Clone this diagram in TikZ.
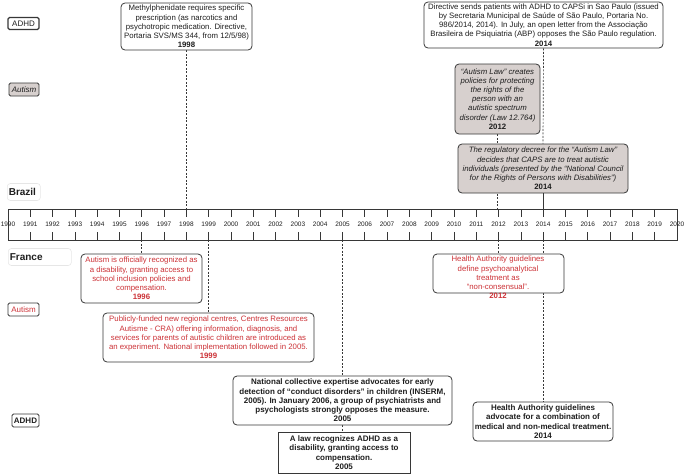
\documentclass[tikz,border=0pt]{standalone}
\usepackage{fontspec}
\setmainfont{Liberation Sans}
\usetikzlibrary{backgrounds}
\definecolor{ink}{RGB}{30,30,30}
\definecolor{edge}{RGB}{55,55,55}
\definecolor{redt}{RGB}{204,50,55}
\definecolor{grayf}{RGB}{215,208,206}
\definecolor{faint}{RGB}{230,230,230}
\tikzset{
  ev/.style={draw=edge, line width=0.8pt, rounded corners=4pt, fill=white, align=center, inner sep=1pt, text=ink, font=\fontsize{7.8}{9.2}\selectfont},
  evg/.style={ev, fill=grayf, font=\fontsize{7.8}{9.2}\selectfont\itshape},
  evr/.style={ev, text=redt},
  evb/.style={ev, font=\fontsize{8}{9.3}\selectfont\bfseries},
  conn/.style={draw=edge, line width=0.7pt, dash pattern=on 2pt off 1.5pt},
  solidconn/.style={draw=edge, line width=0.8pt},
  axisline/.style={draw=edge, line width=0.7pt},
  yr/.style={font=\fontsize{6.5}{7}\selectfont, text=ink, inner sep=0pt},
  tag/.style={draw=edge, line width=0.9pt, rounded corners=1.5pt, inner sep=0pt, minimum width=31pt, minimum height=12pt, font=\fontsize{8}{9}\selectfont, text=ink},
  country/.style={draw=faint, line width=0.6pt, rounded corners=3pt, font=\fontsize{10}{12}\selectfont\bfseries, text=ink, inner sep=0pt, minimum height=17pt, align=left}
}
\begin{document}
\begin{tikzpicture}[x=1pt,y=-1pt]
\useasboundingbox (0,0) rectangle (685,474);

% axis
\coordinate (axTL) at (8,209);
\coordinate (axBL) at (8,240);
\draw[axisline] (8,209) rectangle (677,240);
\foreach \yy in {1990,...,2020}{
  \pgfmathsetmacro{\xx}{8+(\yy-1990)*22.3}
  \draw[axisline] (\xx,209) -- (\xx,217);
  \draw[axisline] (\xx,232) -- (\xx,240);
  \node[yr] (y\yy) at (\xx,224) {\yy};
}

% side labels
\node[tag, line width=1.1pt] (tADHD1) at (23.5,23.5) {ADHD};
\node[tag, fill=grayf, font=\fontsize{8}{9}\selectfont\itshape, minimum width=30pt, minimum height=13pt] (tAut1) at (24,89.5) {Autism};
\node[country, anchor=west, minimum width=33pt, text width=30pt] (brazil) at (7,192) {Brazil};
\node[country, anchor=west, minimum width=63pt, text width=60pt] (france) at (8,257) {France};
\node[tag, text=redt, minimum height=13pt] (tAut2) at (23.5,309.5) {Autism};
\node[tag, font=\fontsize{8}{9}\selectfont\bfseries, minimum width=27pt, minimum height=13pt] (tADHD2) at (25.5,420.5) {ADHD};

% Brazil events
\node[ev, minimum width=131pt, minimum height=47pt] (b98) at (186.5,26.5)
 {Methylphenidate requires specific\\ prescription (as narcotics and\\ psychotropic medication. Directive,\\ Portaria SVS/MS 344, from 12/5/98)\\ \textbf{1998}};
\node[ev, minimum width=239pt, minimum height=46pt] (b14a) at (543.5,25)
 {Directive sends patients with ADHD to CAPSi in Sao Paulo (issued\\ by Secretaria Municipal de Saúde of São Paulo, Portaria No.\\ 986/2014, 2014). In July, an open letter from the Associação\\ Brasileira de Psiquiatria (ABP) opposes the São Paulo regulation.\\ \textbf{2014}};
\node[evg, minimum width=85pt, minimum height=70pt] (b12g) at (497.5,99)
 {“Autism Law” creates\\ policies for protecting\\ the rights of the\\ person with an\\ autistic spectrum\\ disorder (Law 12.764)\\ \textbf{\upshape 2012}};
\node[evg, minimum width=170pt, minimum height=49pt] (b14g) at (543,168.5)
 {The regulatory decree for the “Autism Law”\\ decides that CAPS are to treat autistic\\ individuals (presented by the “National Council\\ for the Rights of Persons with Disabilities”)\\ \textbf{\upshape 2014}};

% France autism events
\node[evr, minimum width=121pt, minimum height=49pt] (f96) at (141.5,278.5)
 {Autism is officially recognized as\\ a disability, granting access to\\ school inclusion policies and\\ compensation.\\ \textbf{1996}};
\node[evr, minimum width=211pt, minimum height=49pt] (f99) at (208.5,337.5)
 {Publicly-funded new regional centres, Centres Resources\\ Autisme - CRA) offering information, diagnosis, and\\ services for parents of autistic children are introduced as\\ an experiment. National implementation followed in 2005.\\ \textbf{1999}};
\node[evr, minimum width=131pt, minimum height=39pt] (f12) at (498.5,273.5) {};
\node[text=redt, align=center, inner sep=0pt, font=\fontsize{7.8}{9.2}\selectfont] (f12t) at (498,277.5)
 {Health Authority guidelines\\ define psychoanalytical\\ treatment as\\ “non-consensual”.\\ \textbf{2012}};

% France ADHD events
\node[evb, minimum width=219pt, minimum height=49pt] (a05) at (342.5,400.5)
 {National collective expertise advocates for early\\ detection of “conduct disorders” in children (INSERM,\\ 2005). In January 2006, a group of psychiatrists and\\ psychologists strongly opposes the measure.\\ 2005};
\node[evb, sharp corners, minimum width=132pt, minimum height=41pt] (a05b) at (344,452.5)
 {A law recognizes ADHD as a\\ disability, granting access to\\ compensation.\\ 2005};
\node[evb, minimum width=140pt, minimum height=39pt] (a14) at (543,421.5)
 {Health Authority guidelines\\ advocate for a combination of\\ medical and non-medical treatment.\\ 2014};

% connectors
\begin{scope}[on background layer]
\draw[conn] (b98.south) -- (b98.south |- axTL);
\draw[conn] (b14a.south) -- (b14g.north);
\draw[conn] (b12g.south) -- (b12g.south |- axTL);
\draw[conn] (f96.north |- axBL) -- (f96.north);
\draw[conn] (f99.north |- axBL) -- (f99.north);
\draw[conn] (f12t.north |- axBL) -- (f12.north -| f12t.north);
\draw[conn] (a14.north |- axBL) -- (a14.north);
\draw[conn] (a05.north |- axBL) -- (a05.north);
\draw[conn] (a05.south) -- (a05.south |- a05b.north);
\end{scope}
\draw[solidconn] (b14g.south) -- (b14g.south |- axTL);
\end{tikzpicture}
\end{document}
